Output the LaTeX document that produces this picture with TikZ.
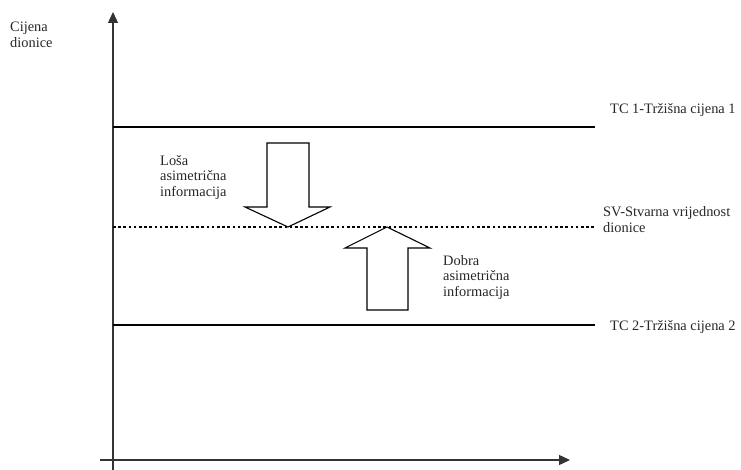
\documentclass[tikz,border=0pt]{standalone}
\usepackage{fontspec}
\setmainfont{Liberation Serif}
\usetikzlibrary{arrows.meta}
\begin{document}
\begin{tikzpicture}[x=1pt,y=-1pt,
  lbl/.style={inner sep=0pt,anchor=west,align=left,text=black!85,font=\fontsize{14.4}{15.5}\selectfont},
  axis/.style={line width=1.3pt,black!80,-{Triangle[length=11pt,width=10pt]}},
  price/.style={line width=2pt,black},
  blockarrow/.style={draw=black,line width=1.1pt,fill=white,line join=miter}]
\useasboundingbox (0,0) rectangle (741,470);
% axes
\coordinate (yb) at (113,470);
\coordinate (yt) at (113,12);
\coordinate (xl) at (100,460);
\coordinate (xr) at (570,460);
\draw[axis] (yb) -- (yt);
\draw[axis] (xl) -- (xr);
% price lines
\coordinate (tc1a) at (113,127);
\coordinate (tc1b) at (595,127);
\coordinate (sva) at (113,227);
\coordinate (svb) at (594,227);
\coordinate (tc2a) at (113,325);
\coordinate (tc2b) at (595,325);
\draw[price] (tc1a) -- (tc1b);
\draw[price] (tc2a) -- (tc2b);
\draw[line width=2.6pt,black,dash pattern=on 2.6pt off 2.6pt] (sva) -- (svb);
% block arrows
\draw[blockarrow] (267,143) -- (309,143) -- (309,207) -- (330,207) -- (288,227) -- (245,207) -- (267,207) -- cycle;
\draw[blockarrow] (367,310) -- (408,310) -- (408,248) -- (430,248) -- (387,227) -- (345,248) -- (367,248) -- cycle;
% labels
\node[lbl] (ylab) at (10,35) {Cijena\\dionice};
\node[lbl] (tc1) at (610,110) {TC 1-Tržišna cijena 1};
\node[lbl] (sv) at (603,219.5) {SV-Stvarna vrijednost\\dionice};
\node[lbl] (tc2) at (610,327) {TC 2-Tržišna cijena 2};
\node[lbl] (losa) at (160,177.5) {Loša\\asimetrična\\informacija};
\node[lbl] (dobra) at (443,277.5) {Dobra\\asimetrična\\informacija};
\end{tikzpicture}
\end{document}
